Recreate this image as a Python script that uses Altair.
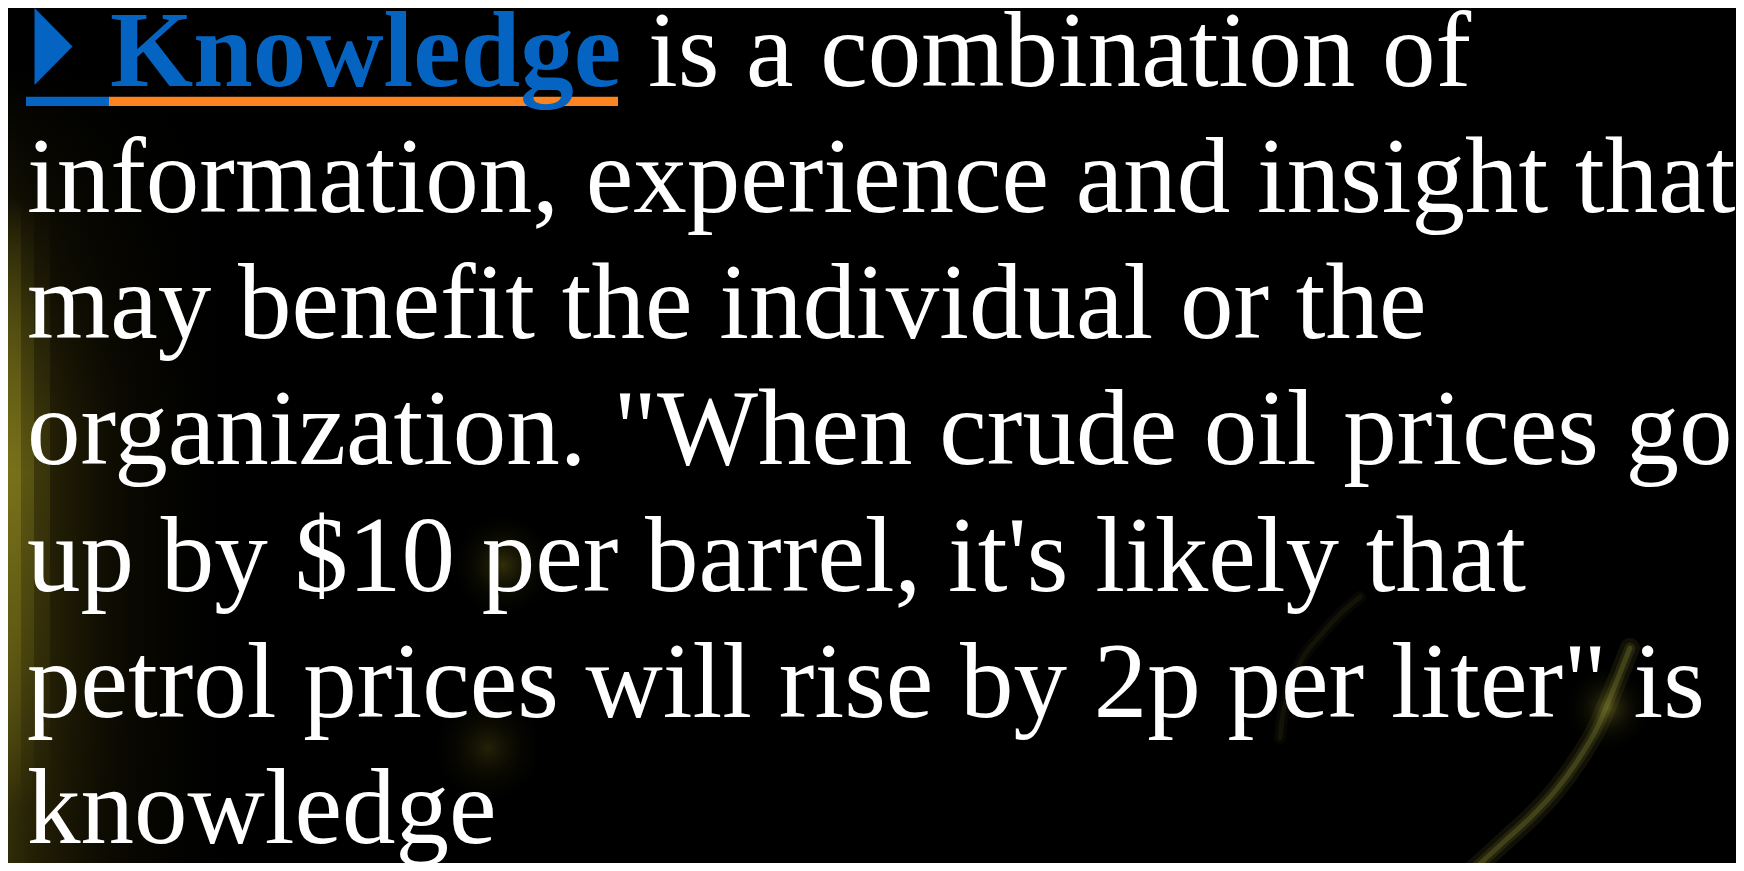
import altair as alt
import pandas as pd

# ---------------- content (text of the slide) ----------------
keyword = ["Knowledge"]
first_line_rest = ["is a combination of"]
body_lines = [
    "information, experience and insight that",
    "may benefit the individual or the",
    'organization. "When crude oil prices go',
    "up by $10 per barrel, it's likely that",
    'petrol prices will rise by 2p per liter" is',
    "knowledge",
]
body_line_numbers = [1, 2, 3, 4, 5, 6]

# decorative light streaks of the background picture (pixel space)
streak_a_x = [1622, 1606, 1590, 1570, 1548, 1524, 1500, 1476, 1452]
streak_a_y = [640, 680, 718, 752, 782, 808, 830, 852, 874]
streak_b_x = [1352, 1332, 1312, 1292, 1279, 1274, 1272]
streak_b_y = [589, 606, 628, 655, 690, 712, 730]

# ---------------- layout / style ----------------
W, H = 1728, 855
FIRST_BASELINE = 77.5
LINE_STEP = 126.3
FONT = "Liberation Serif"
FS = 107
BLUE = "#0563c1"
ORANGE = "#fd8521"

y_lines = alt.Scale(
    domain=[-FIRST_BASELINE / LINE_STEP, (H - FIRST_BASELINE) / LINE_STEP],
    reverse=True, nice=False, zero=False,
)
px_x = alt.Scale(domain=[0, W], nice=False, zero=False)
px_y = alt.Scale(domain=[0, H], reverse=True, nice=False, zero=False)

one = pd.DataFrame({"k": [0]})


def grad_rect(x, x2, y, y2, stops, horizontal=True):
    g = {
        "gradient": "linear",
        "x1": 0, "y1": 0,
        "x2": 1 if horizontal else 0,
        "y2": 0 if horizontal else 1,
        "stops": [{"offset": o, "color": c} for o, c in stops],
    }
    return alt.Chart(one).mark_rect(fill=g, strokeWidth=0).encode(
        x=alt.value(x), x2=alt.value(x2), y=alt.value(y), y2=alt.value(y2)
    )


def blob(cx, cy, r, color, mid):
    g = {
        "gradient": "radial",
        "x1": 0.5, "y1": 0.5, "r1": 0,
        "x2": 0.5, "y2": 0.5, "r2": 0.5,
        "stops": [
            {"offset": 0, "color": color},
            {"offset": 0.45, "color": mid},
            {"offset": 1, "color": "rgba(0,0,0,0)"},
        ],
    }
    return alt.Chart(one).mark_rect(fill=g, strokeWidth=0).encode(
        x=alt.value(cx - r), x2=alt.value(cx + r),
        y=alt.value(cy - r), y2=alt.value(cy + r),
    )


def band(x2, a):
    return grad_rect(0, x2, 190, 800, [
        (0, "rgba(110,104,24,0)"), (0.2, f"rgba(110,104,24,{0.55 * a})"),
        (0.45, f"rgba(128,121,28,{a})"), (0.7, f"rgba(112,106,24,{0.75 * a})"),
        (1, "rgba(110,104,24,0)")], horizontal=False)


glows = [
    # broad dark-olive tint on the left
    grad_rect(0, 240, 60, H, [(0, "rgba(60,54,10,1)"), (0.12, "rgba(46,41,7,0.9)"),
                              (0.45, "rgba(24,21,3,0.55)"), (1, "rgba(0,0,0,0)")]),
    # vertical fade of that tint toward the top
    grad_rect(0, 240, 60, H, [(0, "rgba(0,0,0,1)"), (0.25, "rgba(0,0,0,0.55)"),
                              (0.45, "rgba(0,0,0,0)"), (0.75, "rgba(0,0,0,0)"),
                              (1, "rgba(0,0,0,0.2)")], horizontal=False),
    # narrow bright band at the very edge (stacked for a soft falloff)
    band(42, 0.22),
    band(26, 0.4),
    band(13, 0.75),
    blob(495, 557, 55, "rgba(70,66,14,0.7)", "rgba(40,38,8,0.35)"),
    blob(480, 740, 60, "rgba(60,56,12,0.6)", "rgba(35,32,6,0.3)"),
    blob(1600, 700, 45, "rgba(120,118,40,0.5)", "rgba(70,68,20,0.22)"),
]

streak_a = pd.DataFrame({"px": streak_a_x, "py": streak_a_y, "o": range(len(streak_a_x))})
streak_b = pd.DataFrame({"px": streak_b_x, "py": streak_b_y, "o": range(len(streak_b_x))})


def streak(df, color, widths, opac):
    layers = []
    for w, o in zip(widths, opac):
        layers.append(
            alt.Chart(df).mark_line(
                color=color, strokeWidth=w, opacity=o, strokeCap="round",
                interpolate="monotone",
            ).encode(
                x=alt.X("px:Q", scale=px_x, axis=None),
                y=alt.Y("py:Q", scale=px_y, axis=None),
                order="o:O",
            )
        )
    return layers


deco = streak(streak_a, "#9a9a3c", [20, 11, 5], [0.1, 0.15, 0.25]) + \
       streak(streak_b, "#6c6a26", [12, 5], [0.07, 0.12])

# ---------------- text ----------------
kw_df = pd.DataFrame({"line": [0], "text": keyword})
rest_df = pd.DataFrame({"line": [0], "text": first_line_rest})
body_df = pd.DataFrame({"line": body_line_numbers, "text": body_lines})

text_base = dict(align="left", baseline="alphabetic", font=FONT, fontSize=FS)

kw = alt.Chart(kw_df).mark_text(color=BLUE, fontWeight="bold", **text_base).encode(
    x=alt.value(102), y=alt.Y("line:Q", scale=y_lines, axis=None), text="text:N"
)
rest = alt.Chart(rest_df).mark_text(color="white", **text_base).encode(
    x=alt.value(640), y=alt.Y("line:Q", scale=y_lines, axis=None), text="text:N"
)
body = alt.Chart(body_df).mark_text(color="white", **text_base).encode(
    x=alt.value(19), y=alt.Y("line:Q", scale=y_lines, axis=None), text="text:N"
)

bullet = alt.Chart(one).mark_point(
    shape="M-0.52,-1L0.47,0L-0.52,1Z", filled=True, size=5900,
    color=BLUE, opacity=1, strokeWidth=0,
).encode(x=alt.value(46.5), y=alt.value(38.5))

underline_blue = alt.Chart(one).mark_rect(color=BLUE).encode(
    x=alt.value(18), x2=alt.value(101), y=alt.value(88.7), y2=alt.value(98)
)
underline_orange = alt.Chart(one).mark_rect(color=ORANGE).encode(
    x=alt.value(101), x2=alt.value(610), y=alt.value(88.7), y2=alt.value(98)
)

chart = alt.layer(
    *glows, *deco, underline_blue, underline_orange, bullet, kw, rest, body
).resolve_scale(x="independent", y="independent").properties(
    width=W, height=H, autosize=alt.AutoSizeParams(type="none"), padding=0,
    background="#000000",
).configure_view(stroke=None, fill="#000000")

chart.save("out.html", embed_options={"renderer": "svg", "actions": False})
